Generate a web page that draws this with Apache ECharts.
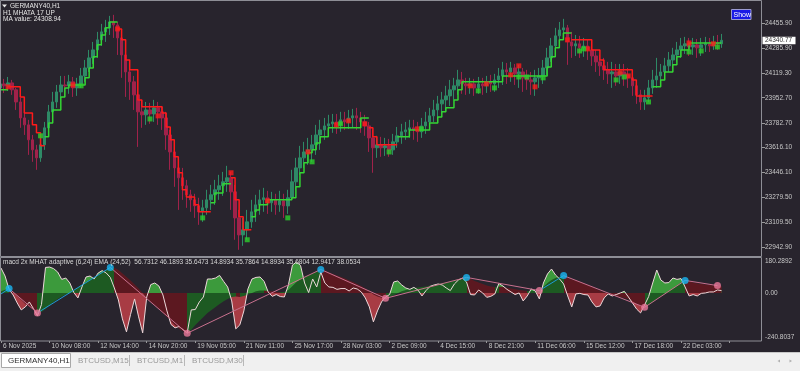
<!DOCTYPE html>
<html><head><meta charset="utf-8">
<script src="https://cdn.jsdelivr.net/npm/echarts@6/dist/echarts.min.js"></script>
<style>html,body{margin:0;padding:0;background:#28242d;}#c{width:800px;height:371px;}</style>
</head><body><div id="c"></div>
<script>
// ---------- DATA ----------
const timeLabels = ['6 Nov 2025','10 Nov 08:00','12 Nov 14:00','14 Nov 20:00','19 Nov 05:00','21 Nov 11:00','25 Nov 17:00','28 Nov 03:00','2 Dec 09:00','4 Dec 15:00','8 Dec 21:00','11 Dec 06:00','15 Dec 12:00','17 Dec 18:00','22 Dec 03:00'];
const priceTicks = [22942.90,23109.50,23279.50,23446.10,23616.10,23782.70,23952.70,24119.30,24285.90,24455.90];
const subTickLabels = ['180.2892','0.00','-240.8037'];
const subMax = 180.2892, subMin = -240.8037;
const lastPrice = 24340.77;

const openP = [24019,24046,24033,24053,24006,23924,23816,23769,23668,23600,
23546,23634,23749,23857,23924,23992,24039,24033,24060,24019,
24046,24100,24154,24222,24276,24344,24398,24425,24465,24445,
24357,24242,24127,24060,23972,23857,23837,23870,23843,23884,
23857,23816,23701,23586,23478,23411,23357,23296,23262,23221,
23181,23208,23262,23296,23330,23357,23384,23411,23316,23140,
23025,23059,23113,23181,23228,23262,23276,23242,23262,23228,
23255,23221,23276,23384,23478,23546,23586,23600,23634,23701,
23735,23762,23776,23789,23769,23803,23789,23816,23830,23816,
23789,23762,23681,23614,23634,23614,23627,23600,23654,23695,
23722,23735,23749,23735,23722,23762,23789,23830,23870,23911,
23938,23965,24006,24033,24073,24046,24033,24046,24019,24046,
24033,24060,24046,24073,24100,24141,24127,24154,24114,24127,
24087,24073,24060,24087,24100,24154,24222,24303,24371,24411,
24425,24330,24303,24317,24290,24303,24276,24235,24195,24168,
24141,24114,24127,24100,24127,24107,24087,24033,23972,23924,
23952,24019,24073,24100,24127,24168,24208,24242,24276,24303,
24317,24296,24310,24290,24310,24317,24303,24323,24317];
const closeP = [24046,24033,24053,24006,23924,23816,23769,23668,23600,23546,
23634,23749,23857,23924,23992,24039,24033,24060,24019,24046,
24100,24154,24222,24276,24344,24398,24425,24465,24445,24357,
24242,24127,24060,23972,23857,23837,23870,23843,23884,23857,
23816,23701,23586,23478,23411,23357,23296,23262,23221,23181,
23208,23262,23296,23330,23357,23384,23411,23316,23140,23025,
23059,23113,23181,23228,23262,23276,23242,23262,23228,23255,
23221,23276,23384,23478,23546,23586,23600,23634,23701,23735,
23762,23776,23789,23769,23803,23789,23816,23830,23816,23789,
23762,23681,23614,23634,23614,23627,23600,23654,23695,23722,
23735,23749,23735,23722,23762,23789,23830,23870,23911,23938,
23965,24006,24033,24073,24046,24033,24046,24019,24046,24033,
24060,24046,24073,24100,24141,24127,24154,24114,24127,24087,
24073,24060,24087,24100,24154,24222,24303,24371,24411,24425,
24330,24303,24317,24290,24303,24276,24235,24195,24168,24141,
24114,24127,24100,24127,24107,24087,24033,23972,23924,23952,
24019,24073,24100,24127,24168,24208,24242,24276,24303,24317,
24296,24310,24290,24310,24317,24303,24323,24317,24340.77];
const highP = [24087,24080,24093,24073,24019,23952,23857,23803,23701,23634,
23681,23789,23904,23992,24039,24100,24100,24107,24093,24087,
24154,24208,24276,24330,24398,24452,24479,24506,24513,24465,
24398,24290,24168,24100,24006,23938,23924,23918,23938,23924,
23897,23857,23735,23634,23532,23478,23397,23330,23303,23276,
23262,23330,23363,23397,23431,23451,23492,23451,23363,23194,
23140,23194,23262,23296,23330,23343,23323,23316,23303,23323,
23303,23330,23465,23546,23627,23654,23681,23701,23769,23803,
23816,23837,23843,23843,23857,23857,23870,23877,23884,23857,
23837,23789,23735,23695,23688,23681,23674,23708,23755,23776,
23789,23803,23803,23789,23816,23857,23884,23938,23965,23992,
24033,24073,24087,24141,24127,24087,24087,24080,24093,24087,
24100,24107,24114,24154,24195,24188,24195,24181,24175,24154,
24141,24127,24141,24154,24208,24290,24357,24425,24465,24486,
24445,24398,24377,24371,24357,24344,24310,24276,24242,24222,
24195,24195,24181,24181,24181,24154,24114,24060,24006,24006,
24073,24141,24222,24181,24222,24262,24290,24330,24357,24364,
24357,24357,24350,24357,24364,24357,24371,24377,24384];
const lowP = [23992,23985,23999,23972,23870,23749,23701,23566,23519,23465,
23519,23600,23722,23837,23884,23952,23965,23979,23958,23965,
24019,24060,24127,24181,24222,24303,24330,24377,24357,24242,
24087,23958,23938,23870,23620,23749,23769,23776,23789,23769,
23735,23600,23465,23350,23194,23262,23208,23181,23140,23093,
23113,23161,23194,23228,23262,23289,23316,23194,22992,22924,
22951,22992,23073,23113,23161,23181,23167,23181,23161,23181,
23140,23167,23262,23330,23431,23478,23499,23519,23566,23600,
23668,23701,23715,23708,23722,23735,23742,23749,23735,23715,
23695,23586,23445,23546,23553,23559,23553,23566,23614,23641,
23668,23681,23668,23654,23681,23708,23749,23789,23816,23843,
23870,23897,23938,23972,23979,23972,23979,23965,23979,23972,
23985,23992,23992,24019,24039,24046,24060,24039,24019,23992,
24006,23972,23965,24019,24046,24107,24195,24262,24330,24344,
24175,24222,24235,24222,24229,24208,24168,24127,24100,24073,
24046,24019,24033,24046,24033,24019,23965,23911,23870,23870,
23924,23979,24019,24046,24087,24127,24154,24195,24222,24249,
24235,24242,24222,24235,24262,24262,24276,24276,24290];

// MHATA step line: [barIndex, level]
const stepUpSegs = [
 [[0,24006],[2,24006]],
 [[11,23688],[12,23782],[13,23870],[15,23958],[16,24019],[17,24039],[20,24039],[21,24087],[22,24154],[23,24229],[24,24310],[25,24377],[26,24425],[27,24465],[29,24465]],
 [[52,23242],[53,23309],[55,23370],[57,23370]],
 [[62,23147],[63,23194],[64,23228],[66,23262],[72,23276],[73,23350],[74,23445],[75,23512],[76,23580],[77,23600],[78,23647],[79,23688],[81,23749],[88,23749],[89,23816],[91,23816]],
 [[98,23688],[101,23735],[106,23782],[108,23823],[109,23857],[110,23884],[112,23938],[113,24006],[114,24060],[124,24100],[135,24161],[136,24229],[137,24290],[138,24344],[139,24391],[141,24391]],
 [[161,24026],[163,24073],[164,24127],[166,24175],[167,24229],[168,24276],[170,24323],[178,24323]]
];
const stepDnSegs = [
 [[2,24026],[5,23958],[6,23850],[8,23769],[9,23715],[10,23627],[11,23627]],
 [[29,24418],[30,24344],[31,24208],[32,24141],[34,23938],[35,23891],[40,23850],[41,23755],[42,23668],[43,23553],[44,23445],[45,23330],[46,23282],[48,23228],[49,23181],[52,23181]],
 [[57,23411],[58,23262],[59,23147],[60,23059],[62,23059]],
 [[91,23749],[92,23688],[93,23634],[98,23634]],
 [[141,24344],[146,24276],[148,24208],[149,24141],[156,24073],[157,23965],[161,23965]]
];
const sellMarks = [[2,24026],[18,24039],[29,24418],[39,23830],[57,23445],[66,23255],[76,23586],[83,23769],[86,23796],[90,23776],[103,23742],[116,24033],[120,24046],[126,24107],[128,24168],[132,24026],[140,24344],[145,24283],[153,24121],[155,24100],[170,24323],[176,24317]];
const buyMarks = [[10,23695],[20,24033],[37,23809],[50,23140],[61,22992],[71,23140],[77,23519],[84,23776],[96,23586],[104,23742],[118,23999],[122,24019],[128,24093],[130,24093],[134,24087],[143,24269],[144,24283],[152,24073],[154,24093],[160,23924],[170,24262],[173,24269],[177,24296]];

// oscillator
const macd = [125,85,18,-10,-50,-85,-70,-45,-78,-115,
-58,128,130,122,105,68,75,50,2,-25,
30,80,85,70,100,112,100,78,25,-35,
-130,-195,-108,-30,-120,-200,-20,42,50,35,
-10,-90,-158,-175,-168,-185,-200,-85,-83,-45,
-20,70,70,75,88,58,30,-40,-180,-160,
-90,20,70,78,80,58,5,-17,-8,-18,
-20,40,140,155,138,50,2,70,30,105,
50,30,28,18,22,22,10,25,20,5,
-25,-70,-145,-90,-45,-20,-8,55,60,40,
25,18,28,15,-15,12,33,40,45,40,
25,12,45,65,75,55,-8,-10,15,0,
-22,-17,-5,48,35,18,5,-8,0,-40,
-15,20,10,-30,50,95,120,90,70,45,
-15,-70,-5,-2,-8,-10,-45,-70,-65,-25,
-5,-15,-8,0,8,-20,-50,-80,-100,-60,
-18,50,115,65,50,52,75,68,72,30,
-15,-8,-15,-2,0,5,5,15,12];
const signal = [8,16,22,5,-15,-35,-55,-70,-85,-98,
-95,-80,-62,-45,-30,-18,-8,0,15,28,
42,55,68,80,92,105,115,125,126,115,
98,80,62,42,22,0,-25,-45,-62,-80,
-100,-120,-142,-162,-180,-192,-200,-185,-160,-140,
-120,-100,-85,-70,-55,-42,-30,-20,-18,-20,
-15,-8,0,8,12,12,10,8,5,4,
5,15,35,55,70,80,88,98,108,118,
112,102,95,88,80,72,62,55,45,35,
22,8,-8,-18,-24,-27,-22,-12,-2,8,
15,20,25,28,30,33,38,42,46,50,
52,55,62,70,76,78,70,60,52,45,
38,33,30,32,30,26,22,18,15,12,
10,10,10,12,30,50,65,75,82,87,
78,68,62,55,48,40,30,20,10,2,
-5,-10,-15,-20,-25,-32,-42,-55,-66,-72,
-60,-45,-30,-15,-5,8,22,38,52,62,
58,52,48,45,42,40,38,37,35];
// divergence anchors on the signal line: [barIndex, value]
const divPts = [[2,22],[9,-100],[27,128],[46,-202],[79,118],[95,-27],[115,78],[133,12],[139,87],[159,-72],[169,63],[177,37]];
const divKinds = ['h','l','h','l','h','l','h','l','h','l','h','l'];
const divSegKinds = ['p','b','p','p','p','p','p','b','p','p','p'];
const divLeadIn = [[0,-5],[2,22]];

// ---------- STYLE ----------
const BG = '#28242d';
const FONT = '"Liberation Sans", Arial, sans-serif';
const TXT = '#c8c8c8';
const BULL = '#2e8a66', BEAR = '#a0224a';
const UP = '#33d633', DN = '#ff1a1a';
const LG = '#3c9a3c', LR = '#a83c44', DG = '#1d5a22', DR = '#5c1820';
const PINK = '#c8708e', BLUE = '#1e9ad6';

const NSLOT = 189;
const cats = Array.from({length: NSLOT}, (_, i) => (i % 12 === 0 && i / 12 < timeLabels.length) ? timeLabels[i / 12] : '');
const candleData = closeP.map((c, i) => [openP[i], c, lowP[i], highP[i]]);

const series = [];
series.push({type:'candlestick', xAxisIndex:0, yAxisIndex:0, data: candleData, barWidth: 3, z: 2,
  itemStyle:{color:BULL, color0:BEAR, borderColor:BULL, borderColor0:BEAR, borderWidth:1}});
stepUpSegs.forEach(s => series.push({type:'line', xAxisIndex:0, yAxisIndex:0, step:'end', data:s, showSymbol:false, z:4,
  lineStyle:{color:UP, width:1.5}}));
stepDnSegs.forEach(s => series.push({type:'line', xAxisIndex:0, yAxisIndex:0, step:'end', data:s, showSymbol:false, z:4,
  lineStyle:{color:DN, width:1.5}}));
series.push({type:'scatter', xAxisIndex:0, yAxisIndex:0, data: sellMarks, symbol:'rect', symbolSize:5, z:5, itemStyle:{color:DN}});
series.push({type:'scatter', xAxisIndex:0, yAxisIndex:0, data: buyMarks, symbol:'rect', symbolSize:5, z:5, itemStyle:{color:'#2ccf2c'}});

const macdAreaIdx = series.length;
series.push({type:'line', xAxisIndex:1, yAxisIndex:1, data: macd, showSymbol:false, z:2,
  lineStyle:{width:0}, areaStyle:{opacity:1}});
const sigAreaIdx = series.length;
series.push({type:'line', xAxisIndex:1, yAxisIndex:1, data: signal, showSymbol:false, z:3,
  lineStyle:{width:0}, areaStyle:{opacity:1}});
series.push({type:'line', xAxisIndex:1, yAxisIndex:1, data: macd, showSymbol:false, z:4,
  lineStyle:{color:'#ecd8da', width:1}});
series.push({type:'line', xAxisIndex:1, yAxisIndex:1, data: divLeadIn, showSymbol:false, z:5, lineStyle:{color:BLUE, width:1}});
for (let k = 0; k < divPts.length - 1; k++) {
  series.push({type:'line', xAxisIndex:1, yAxisIndex:1, data:[divPts[k], divPts[k+1]], showSymbol:false, z:5,
    lineStyle:{color: divSegKinds[k] === 'b' ? BLUE : PINK, width:1}});
}
series.push({type:'scatter', xAxisIndex:1, yAxisIndex:1, symbolSize:7, z:6,
  data: divPts.map((p, k) => ({value:p, itemStyle:{color: divKinds[k] === 'h' ? '#19b6f2' : '#e8789a'}}))});

// signal fill colour: dark green while the signal rises, dark red while it falls
const sigPieces = [];
let rising = signal[1] >= signal[0], start = -1;
for (let i = 1; i < signal.length - 1; i++) {
  const r = signal[i + 1] >= signal[i];
  if (r !== rising) {
    sigPieces.push({gte: start, lt: i, color: rising ? DG : DR});
    start = i; rising = r;
  }
}
sigPieces.push({gte: start, lte: NSLOT, color: rising ? DG : DR});

const option = {
  backgroundColor: BG,
  animation: false,
  textStyle: {fontFamily: FONT},
  grid: [
    {left:0, top:1, width:762, height:255},
    {left:0, top:257, width:762, height:84}
  ],
  xAxis: [
    {type:'category', gridIndex:0, data:cats, boundaryGap:false, axisLabel:{show:false}, axisTick:{show:false}, axisLine:{show:false, onZero:false}, splitLine:{show:false}},
    {type:'category', gridIndex:1, data:cats, boundaryGap:false, position:'bottom', axisLine:{show:false, onZero:false}, splitLine:{show:false},
      axisTick:{show:true, length:2, interval:(i)=> i % 12 === 0, lineStyle:{color:'#9a9a9a'}},
      axisLabel:{show:true, interval:(i)=> i % 12 === 0, align:'left', margin:2, padding:[0,0,0,2], color:TXT, fontSize:6.5, fontFamily:FONT}}
  ],
  yAxis: [
    {type:'value', gridIndex:0, position:'right', min:22882.2, max:24606.7, splitLine:{show:false}, axisLine:{show:false},
      axisTick:{show:true, length:3, customValues: priceTicks, lineStyle:{color:'#9a9a9a'}},
      axisLabel:{show:true, customValues: priceTicks, margin:3, color:TXT, fontSize:6.5, fontFamily:FONT, formatter:(v)=> v.toFixed(2)}},
    {type:'value', gridIndex:1, position:'right', min:subMin, max:subMax, splitLine:{show:false}, axisLine:{show:false},
      axisTick:{show:false},
      axisLabel:{show:true, customValues:[subMax, 0, subMin], margin:3, color:TXT, fontSize:6.5, fontFamily:FONT,
        formatter:(v)=> v === subMax ? '{t|' + subTickLabels[0] + '}' : (v === 0 ? '{m|' + subTickLabels[1] + '}' : '{b|' + subTickLabels[2] + '}'),
        rich:{t:{padding:[9,0,0,0], fontSize:6.5, color:TXT}, m:{fontSize:6.5, color:TXT}, b:{padding:[0,0,8,0], fontSize:6.5, color:TXT}}}}
  ],
  visualMap: [
    {type:'piecewise', show:false, seriesIndex: macdAreaIdx, dimension:1,
      pieces:[{gte:subMin - 10, lt:0, color:LR}, {gte:0, lte:subMax + 10, color:LG}]},
    {type:'piecewise', show:false, seriesIndex: sigAreaIdx, dimension:0, pieces: sigPieces}
  ],
  series: series
};

const chart = echarts.init(document.getElementById('c'), null, {width:800, height:371});
chart.setOption(option);

const priceY = chart.convertToPixel({yAxisIndex:0}, lastPrice);
const txt = (t, x, y, fill, size) => ({type:'text', silent:true, z:110,
  style:{text:t, x:x, y:y, fill:fill, font: size + 'px ' + FONT, verticalAlign:'middle', align:'left'}});
const graphics = [
  {type:'rect', z:90, silent:true, shape:{x:0.5, y:0.5, width:761, height:256}, style:{fill:null, stroke:'#8e8e96', lineWidth:1}},
  {type:'rect', z:90, silent:true, shape:{x:0.5, y:257.5, width:761, height:83.5}, style:{fill:null, stroke:'#8e8e96', lineWidth:1}},
  {type:'polygon', z:100, silent:true, shape:{points:[[2,4.5],[7,4.5],[4.5,7.5]]}, style:{fill:'#e6e6e6'}},
  txt('GERMANY40,H1', 10, 6.5, '#e6e6e6', 6.5),
  txt('H1 MHATA 17 UP', 3, 13, '#e6e6e6', 6.5),
  txt('MA value: 24308.94', 3, 19.7, '#e6e6e6', 6.5),
  txt('macd 2x MHAT adaptive (6,24) EMA (24,52)  56.7312 46.1893 35.6473 14.8934 35.7864 14.8934 35.6804 12.9417 38.0534', 3, 262.5, '#d8d8d8', 6.5),
  {type:'rect', z:100, silent:true, shape:{x:731.5, y:9.5, width:19.5, height:10}, style:{fill:'#1a1ae6', stroke:'#9a9ad0', lineWidth:1}},
  txt('Show', 733.5, 14.8, '#ffffff', 7),
  {type:'rect', z:100, silent:true, shape:{x:762.5, y:priceY - 3.5, width:33, height:7.5}, style:{fill:'#ffffff'}},
  txt(lastPrice.toFixed(2), 765, priceY, '#303030', 6.5),
  {type:'rect', z:100, silent:true, shape:{x:0, y:352, width:800, height:19}, style:{fill:'#f0f0f0'}},
  {type:'line', z:101, silent:true, shape:{x1:0, y1:352.5, x2:800, y2:352.5}, style:{stroke:'#c8c8c8', lineWidth:1}},
  {type:'rect', z:101, silent:true, shape:{x:1.5, y:353.5, width:69, height:14}, style:{fill:'#ffffff', stroke:'#a8a8a8', lineWidth:1}},
  txt('GERMANY40,H1', 8, 360.8, '#303030', 8),
  txt('BTCUSD,M15', 78, 360.8, '#9a9a9a', 8),
  txt('BTCUSD,M1', 137, 360.8, '#9a9a9a', 8),
  txt('BTCUSD,M30', 192, 360.8, '#9a9a9a', 8),
  {type:'line', z:101, silent:true, shape:{x1:129.5, y1:355, x2:129.5, y2:366}, style:{stroke:'#b8b8b8', lineWidth:1}},
  {type:'line', z:101, silent:true, shape:{x1:184.5, y1:355, x2:184.5, y2:366}, style:{stroke:'#b8b8b8', lineWidth:1}},
  {type:'line', z:101, silent:true, shape:{x1:243.5, y1:355, x2:243.5, y2:366}, style:{stroke:'#b8b8b8', lineWidth:1}},
  {type:'polygon', z:101, silent:true, shape:{points:[[780,359.5],[777.5,361],[780,362.5]]}, style:{fill:'#b0b0b0'}},
  {type:'polygon', z:101, silent:true, shape:{points:[[789.5,359.5],[792,361],[789.5,362.5]]}, style:{fill:'#b0b0b0'}}
];
chart.setOption({graphic: graphics});
</script></body></html>
